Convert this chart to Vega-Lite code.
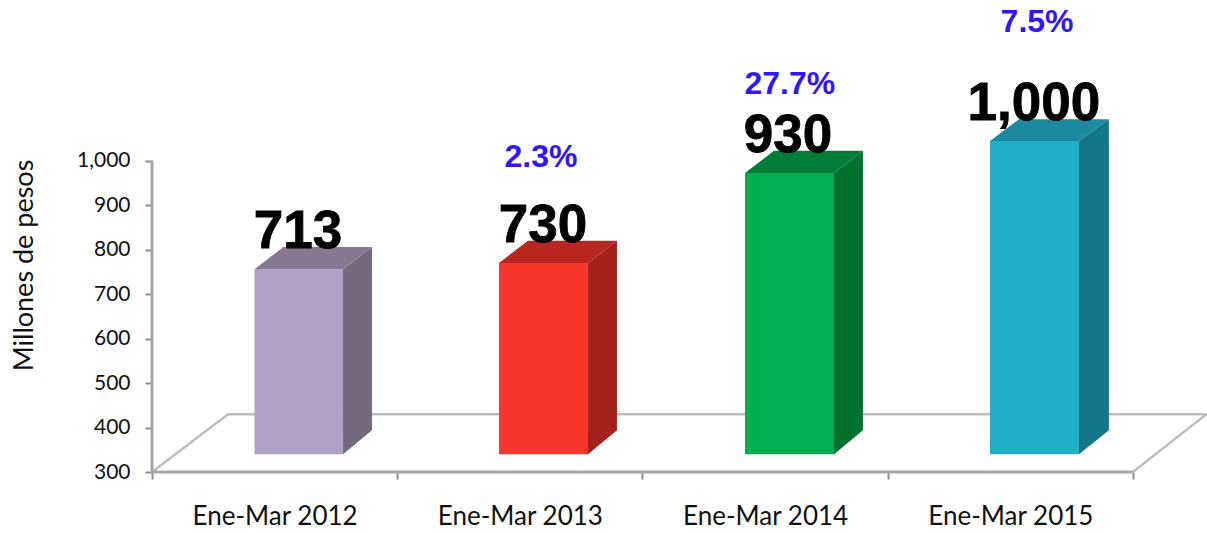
{"$schema":"https://vega.github.io/schema/vega-lite/v6.json","width":1055,"height":472,"autosize":"none","padding":{"left":152,"top":0,"right":0,"bottom":61},"background":"white","config":{"view":{"stroke":null}},
"datasets":{
"faces":[
{"face":"f1","x":0.418,"y":756,"y2":340},{"face":"f1","x":0.779,"y":756,"y2":340},
{"face":"s1","x":0.779,"y":756,"y2":340},{"face":"s1","x":0.897,"y":806,"y2":394},
{"face":"t1","x":0.418,"y":756,"y2":756},{"face":"t1","x":0.536,"y":806,"y2":756},{"face":"t1","x":0.779,"y":806,"y2":756},{"face":"t1","x":0.897,"y":806,"y2":806},
{"face":"f2","x":1.415,"y":770,"y2":340},{"face":"f2","x":1.778,"y":770,"y2":340},
{"face":"s2","x":1.778,"y":770,"y2":340},{"face":"s2","x":1.896,"y":820,"y2":394},
{"face":"t2","x":1.415,"y":770,"y2":770},{"face":"t2","x":1.533,"y":820,"y2":770},{"face":"t2","x":1.778,"y":820,"y2":770},{"face":"t2","x":1.896,"y":820,"y2":820},
{"face":"f3","x":2.418,"y":972,"y2":340},{"face":"f3","x":2.781,"y":972,"y2":340},
{"face":"s3","x":2.781,"y":972,"y2":340},{"face":"s3","x":2.899,"y":1022,"y2":394},
{"face":"t3","x":2.418,"y":972,"y2":972},{"face":"t3","x":2.536,"y":1022,"y2":972},{"face":"t3","x":2.781,"y":1022,"y2":972},{"face":"t3","x":2.899,"y":1022,"y2":1022},
{"face":"f4","x":3.417,"y":1044,"y2":340},{"face":"f4","x":3.78,"y":1044,"y2":340},
{"face":"s4","x":3.78,"y":1044,"y2":340},{"face":"s4","x":3.902,"y":1093,"y2":394},
{"face":"t4","x":3.417,"y":1044,"y2":1044},{"face":"t4","x":3.535,"y":1093,"y2":1044},{"face":"t4","x":3.78,"y":1093,"y2":1044},{"face":"t4","x":3.902,"y":1093,"y2":1093}
],
"floor":[{"i":1,"x":0,"y":300},{"i":2,"x":0.31,"y":430},{"i":3,"x":4.3,"y":430},{"i":4,"x":4,"y":300}],
"axisline":[{"i":1,"x":0,"y":1000},{"i":2,"x":0,"y":300},{"i":3,"x":4,"y":300}],
"totals":[{"label":"713","x":0.595,"y":803},{"label":"730","x":1.594,"y":817},{"label":"930","x":2.593,"y":1019},{"label":"1,000","x":3.596,"y":1091}],
"growth":[{"label":"2.3%","x":1.586,"y":986},{"label":"27.7%","x":2.601,"y":1150},{"label":"7.5%","x":3.609,"y":1289}]
},
"encoding":{"y":{"field":"y","type":"quantitative","scale":{"domain":[300,1361],"nice":false,"zero":false},"axis":{"values":[300,400,500,600,700,800,900,1000],"labelExpr":"format(datum.value, ',d')","domain":false,"grid":false,"title":"Millones de pesos","titleFont":"Lato","titleFontSize":27,"titleFontWeight":"normal","titleColor":"#111111","titleAnchor":"middle","titleAlign":"center","titleBaseline":"alphabetic","titleX":-120,"titleY":265,"labelFont":"Lato","labelFontSize":21,"labelColor":"#111111","labelPadding":15,"tickColor":"#8c8c8c","tickSize":7,"tickWidth":2}}},
"layer":[
{"data":{"name":"floor"},"mark":{"type":"line","color":"#bdbdbd","strokeWidth":2.5},"encoding":{"x":{"field":"x","type":"quantitative","scale":{"domain":[0,4.302],"nice":false,"zero":false},"axis":{"orient":"bottom","values":[0.5,1.5,2.5,3.5],"labelExpr":"'Ene-Mar ' + (2011.5 + datum.value)","ticks":false,"domain":false,"grid":false,"title":null,"labelFont":"Lato","labelFontSize":26,"labelColor":"#111111","labelPadding":31}},"order":{"field":"i"}}},
{"data":{"name":"axisline"},"mark":{"type":"line","color":"#a6a6a6","strokeWidth":3},"encoding":{"x":{"field":"x","type":"quantitative","scale":{"domain":[0,4.302],"nice":false,"zero":false},"axis":{"orient":"bottom","values":[0,1,2,3,4],"labels":false,"domain":false,"grid":false,"title":null,"tickColor":"#8c8c8c","tickSize":7,"tickWidth":2}},"order":{"field":"i"}}},
{"data":{"name":"faces"},"mark":{"type":"area","opacity":1},"encoding":{"x":{"field":"x","type":"quantitative","scale":{"domain":[0,4.302],"nice":false,"zero":false},"axis":null},"y2":{"field":"y2"},"color":{"field":"face","type":"nominal","legend":null,"scale":{"domain":["f1","s1","t1","f2","s2","t2","f3","s3","t3","f4","s4","t4"],"range":["#b2a1c7","#76687f","#887790","#f9362c","#a3221c","#b9261f","#00b050","#00702f","#007d38","#1fb0c8","#13778a","#1b8aa0"]}}}},
{"data":{"name":"totals"},"mark":{"type":"text","font":"Liberation Sans","fontWeight":"bold","fontSize":53,"color":"#000000","stroke":"#000000","strokeWidth":0.8,"align":"center","baseline":"alphabetic"},"encoding":{"x":{"field":"x","type":"quantitative","scale":{"domain":[0,4.302],"nice":false,"zero":false},"axis":null},"text":{"field":"label"}}},
{"data":{"name":"growth"},"mark":{"type":"text","font":"Liberation Sans","fontWeight":"bold","fontSize":32,"color":"#3214ff","align":"center","baseline":"alphabetic"},"encoding":{"x":{"field":"x","type":"quantitative","scale":{"domain":[0,4.302],"nice":false,"zero":false},"axis":null},"text":{"field":"label"}}}
],
"resolve":{"axis":{"x":"independent"}}}
